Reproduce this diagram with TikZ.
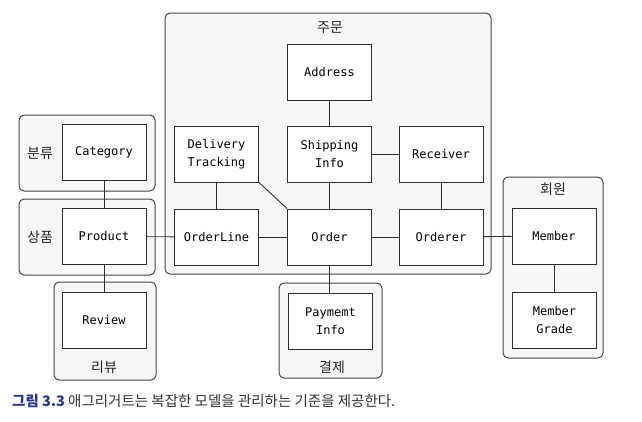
\documentclass[tikz,border=0pt]{standalone}
\usepackage{fontspec}
\setmonofont{DejaVu Sans Mono}
\newfontfamily\krfont{Noto Sans CJK KR}
\definecolor{grpfill}{RGB}{246,247,249}
\definecolor{grpline}{RGB}{70,70,72}
\definecolor{boxline}{RGB}{45,45,45}
\definecolor{capblue}{RGB}{38,52,140}
\definecolor{captext}{RGB}{50,50,50}
\begin{document}
\begin{tikzpicture}[x=1pt,y=-1pt,
	grp/.style={draw=grpline,fill=grpfill,line width=1pt,rounded corners=5pt,inner sep=0pt},
	box/.style={draw=boxline,fill=white,line width=1pt,minimum width=84pt,minimum height=56pt,align=center,inner sep=0pt,font=\ttfamily\fontsize{12}{18}\selectfont},
	grplabel/.style={font=\krfont\fontsize{14}{16}\selectfont,text=black!85},
	link/.style={draw=boxline,line width=0.9pt}]
	\useasboundingbox (0,0) rectangle (642,421);
	\node[grp,minimum width=136pt,minimum height=76pt] (gcategory) at (87,153) {};
	\node[grp,minimum width=136pt,minimum height=76pt] (gproduct) at (87,237) {};
	\node[grp,minimum width=102pt,minimum height=98pt] (greview) at (105,331) {};
	\node[grp,minimum width=326pt,minimum height=261pt] (gorder) at (328,143.5) {};
	\node[grp,minimum width=103pt,minimum height=95pt] (gpayment) at (330.5,330.5) {};
	\node[grp,minimum width=100pt,minimum height=181pt] (gmember) at (553,267.5) {};
	\node[grplabel] at (40,153) {분류};
	\node[grplabel] at (40,237) {상품};
	\node[grplabel] at (104,367) {리뷰};
	\node[grplabel] at (330,28) {주문};
	\node[grplabel] at (332,367) {결제};
	\node[grplabel] at (553,189) {회원};
	\node[box] (category) at (104,152.5) {Category};
	\node[box] (product) at (104,236.5) {Product};
	\node[box] (review) at (104,320.5) {Review};
	\node[box] (address) at (329.5,72.5) {Address};
	\node[box] (shipping) at (329.5,154.5) {Shipping\\Info};
	\node[box] (delivery) at (216.5,154) {Delivery\\Tracking};
	\node[box] (receiver) at (441,154.5) {Receiver};
	\node[box] (orderline) at (216.5,237) {OrderLine};
	\node[box] (order) at (329.5,237) {Order};
	\node[box] (orderer) at (441,237) {Orderer};
	\node[box] (payment) at (330.5,321) {Paymemt\\Info};
	\node[box] (member) at (554,236) {Member};
	\node[box] (grade) at (554.5,320.5) {Member\\Grade};
	\draw[link] (category)--(product);
	\draw[link] (product)--(review);
	\draw[link] (product)--(orderline);
	\draw[link] (orderline)--(delivery);
	\draw[link] (orderline)--(order);
	\draw[link] (delivery.south east)--(order.north west);
	\draw[link] (order)--(shipping);
	\draw[link] (shipping)--(address);
	\draw[link] (shipping)--(receiver);
	\draw[link] (receiver)--(orderer);
	\draw[link] (order)--(orderer);
	\draw[link] (order.south)--(order.south|-payment.north);
	\draw[link] (orderer)--(member);
	\draw[link] (member.south)--(member.south|-grade.north);
	\node[anchor=west,font=\krfont\fontsize{14.5}{16}\selectfont,text=captext,inner sep=0pt] (caption) at (12,401)
		{{\bfseries\color{capblue}그림 3.3} 애그리거트는 복잡한 모델을 관리하는 기준을 제공한다.};
\end{tikzpicture}
\end{document}
